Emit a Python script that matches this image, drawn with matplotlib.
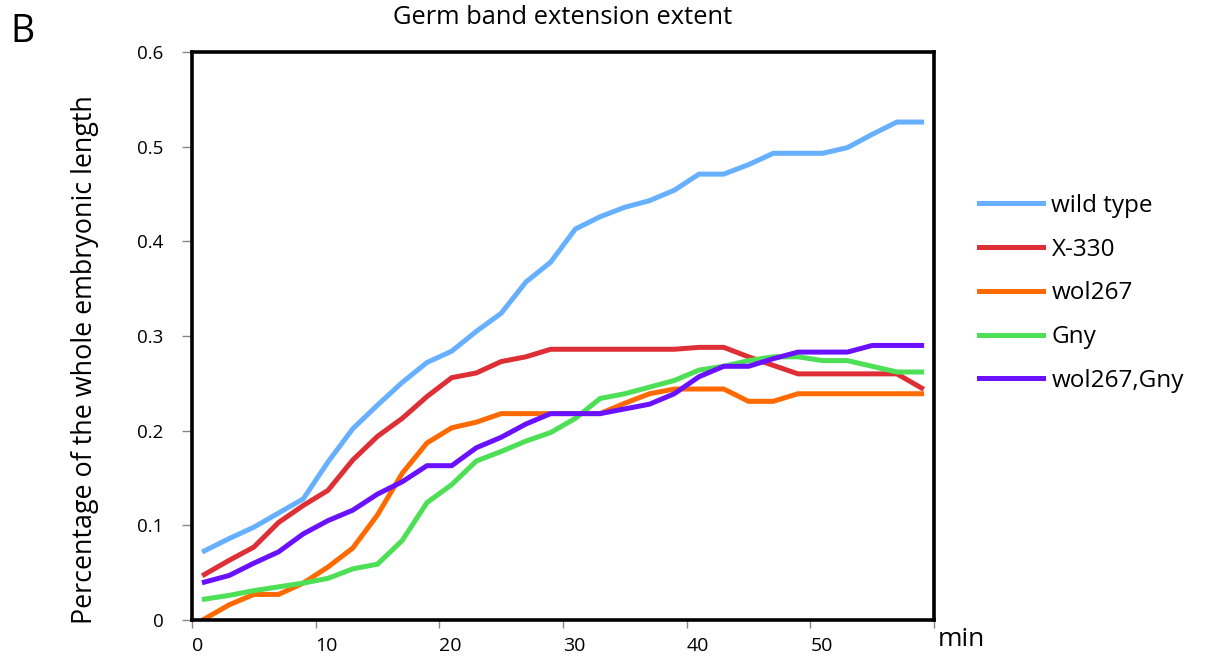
import numpy as np
import matplotlib
matplotlib.use("Agg")
import matplotlib.pyplot as plt

# time points (min)
minutes = list(range(1, 60, 2))

wild_type = [0.073, 0.086, 0.098, 0.113, 0.128, 0.167, 0.202, 0.227, 0.251, 0.272,
             0.284, 0.305, 0.324, 0.357, 0.378, 0.413, 0.426, 0.436, 0.443, 0.454,
             0.471, 0.471, 0.481, 0.493, 0.493, 0.493, 0.499, 0.513, 0.526, 0.526]
x330 = [0.048, 0.063, 0.077, 0.103, 0.121, 0.137, 0.169, 0.194, 0.213, 0.236,
        0.256, 0.261, 0.273, 0.278, 0.286, 0.286, 0.286, 0.286, 0.286, 0.286,
        0.288, 0.288, 0.278, 0.269, 0.260, 0.260, 0.260, 0.260, 0.260, 0.245]
wol267 = [0.001, 0.016, 0.027, 0.027, 0.039, 0.056, 0.076, 0.111, 0.155, 0.187,
          0.203, 0.209, 0.218, 0.218, 0.218, 0.218, 0.218, 0.229, 0.239, 0.244,
          0.244, 0.244, 0.231, 0.231, 0.239, 0.239, 0.239, 0.239, 0.239, 0.239]
gny = [0.022, 0.026, 0.031, 0.035, 0.039, 0.044, 0.054, 0.059, 0.084, 0.124,
       0.143, 0.168, 0.178, 0.189, 0.198, 0.213, 0.234, 0.239, 0.246, 0.253,
       0.264, 0.268, 0.274, 0.278, 0.278, 0.274, 0.274, 0.268, 0.262, 0.262]
wol267_gny = [0.040, 0.047, 0.060, 0.072, 0.091, 0.105, 0.116, 0.133, 0.146, 0.163,
              0.163, 0.182, 0.193, 0.207, 0.218, 0.218, 0.218, 0.223, 0.228, 0.239,
              0.257, 0.268, 0.268, 0.276, 0.283, 0.283, 0.283, 0.290, 0.290, 0.290]

labels = ["wild type", "X-330", "wol267", "Gny", "wol267,Gny"]
colors = ["#66b0ff", "#df2f36", "#ff6a00", "#4ddf55", "#6a12ff"]
series = [wild_type, x330, wol267, gny, wol267_gny]

xticks = [0, 10, 20, 30, 40, 50, 60]
xticklabels = ["0", "10", "20", "30", "40", "50", ""]
yticks = [0, 0.1, 0.2, 0.3, 0.4, 0.5, 0.6]
yticklabels = ["0", "0.1", "0.2", "0.3", "0.4", "0.5", "0.6"]

plt.rcParams['font.family'] = ['Open Sans', 'DejaVu Sans']

W, H = 1208, 659
fig = plt.figure(figsize=(W/100, H/100), dpi=100)
ax = fig.add_axes([192/W, 1-620/H, (934-192)/W, (620-52)/H])

for vals, lab, col in zip(series, labels, colors):
    ax.plot(minutes, vals, color=col, lw=3.6, label=lab, solid_joinstyle='miter')

ax.set_xlim(0, 60)
ax.set_ylim(0, 0.6)
ax.set_xticks(xticks)
ax.set_xticklabels(xticklabels, ha='left')
ax.set_yticks(yticks)
ax.set_yticklabels(yticklabels)
ax.tick_params(axis='y', direction='out', length=7.5, width=1, color='#888888',
               labelsize=13.5, pad=13)
ax.tick_params(axis='x', direction='out', length=6, width=1, color='#888888',
               labelsize=14, pad=6)
for s in ax.spines.values():
    s.set_linewidth(2.6)

fig.text(563/W, 1-18/H, "Germ band extension extent", fontsize=18.4, ha='center', va='center')
fig.text(85/W, 1-360/H, "Percentage of the whole embryonic length", fontsize=19.4,
         rotation=90, ha='center', va='center')
fig.text(938/W, 1-639/H, "min", fontsize=19, ha='left', va='center')
fig.text(10/W, 1-32/H, "B", fontsize=27, ha='left', va='center')

fig.legend(loc='upper left', bbox_to_anchor=(979/W, 1-194/H), frameon=False,
           fontsize=17.5, handlelength=2.63, labelspacing=0.81, handletextpad=0.35,
           borderpad=0, borderaxespad=0)

fig.savefig("out.png", dpi=100)
